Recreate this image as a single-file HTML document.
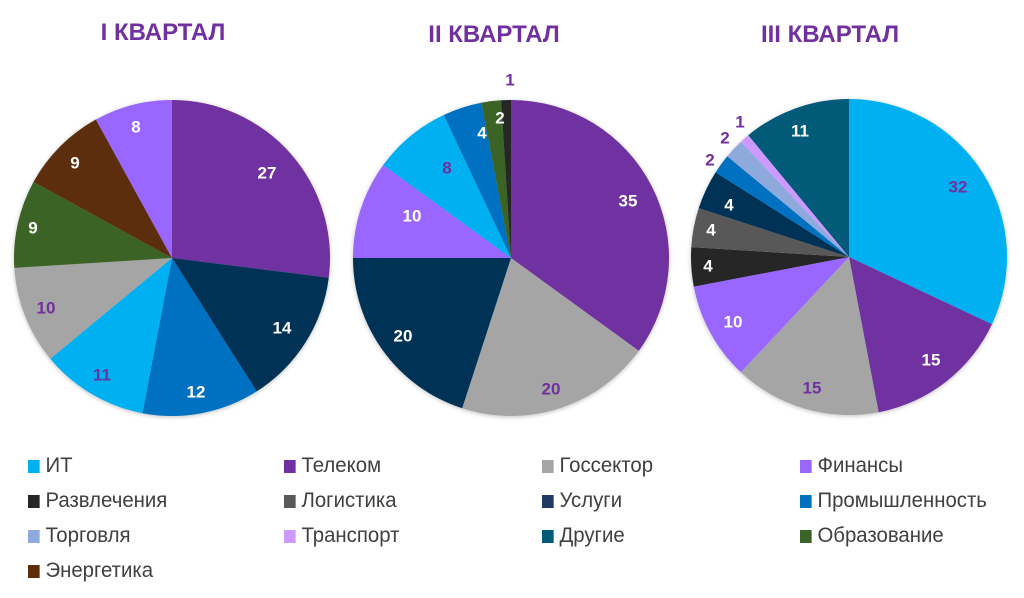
<!DOCTYPE html>
<html><head><meta charset="utf-8"><style>
body{margin:0;background:#fff;width:1024px;height:598px;overflow:hidden;font-family:"Liberation Sans",sans-serif}
.t{font-family:"Liberation Sans",sans-serif;font-weight:bold;font-size:24px;fill:#7030A0}
.l{font-weight:bold;font-size:17px;text-anchor:middle;dominant-baseline:central}
.w{fill:#fff}.p{fill:#7030A0}
.lg{position:absolute;font-size:21px;color:#404040;transform:scaleX(0.97);transform-origin:left}
.lg i{display:inline-block;width:12px;height:13px;margin-right:6px;vertical-align:-1px}
</style></head><body>
<svg width="1024" height="598" style="position:absolute;left:0;top:0">
<defs><filter id="s" x="-10%" y="-10%" width="120%" height="120%"><feDropShadow dx="0" dy="1" stdDeviation="2" flood-opacity="0.25"/></filter></defs>
<text class="t" x="163" y="40" text-anchor="middle">I КВАРТАЛ</text>
<text class="t" x="494" y="42" text-anchor="middle">II КВАРТАЛ</text>
<text class="t" x="830" y="42" text-anchor="middle">III КВАРТАЛ</text>
<g id="p1" filter="url(#s)"></g><g id="p2" filter="url(#s)"></g><g id="p3" filter="url(#s)"></g>
<g class="l">
<text class="w" x="267" y="173">27</text><text class="w" x="282" y="328">14</text><text class="w" x="196" y="392">12</text>
<text class="p" x="102" y="375">11</text><text class="p" x="46" y="308">10</text><text class="w" x="33" y="228">9</text>
<text class="w" x="75" y="163">9</text><text class="w" x="136" y="127">8</text>
<text class="w" x="628" y="201">35</text><text class="p" x="551" y="389">20</text><text class="w" x="403" y="336">20</text>
<text class="w" x="412" y="216">10</text><text class="p" x="447" y="168">8</text><text class="w" x="482" y="133">4</text>
<text class="w" x="500" y="118">2</text><text class="p" x="510" y="80">1</text>
<text class="p" x="958" y="187">32</text><text class="w" x="931" y="360">15</text><text class="p" x="812" y="388">15</text>
<text class="w" x="733" y="322">10</text><text class="w" x="708" y="266">4</text><text class="w" x="711" y="230">4</text>
<text class="w" x="729" y="205">4</text><text class="p" x="710" y="160">2</text><text class="p" x="725" y="138">2</text>
<text class="p" x="740" y="122">1</text><text class="w" x="800" y="131">11</text>
</g>
</svg>
<div class="lg" style="left:28px;top:454px"><i style="background:#00B0F0"></i>ИТ</div>
<div class="lg" style="left:284px;top:454px"><i style="background:#7030A0"></i>Телеком</div>
<div class="lg" style="left:542px;top:454px"><i style="background:#A5A5A5"></i>Госсектор</div>
<div class="lg" style="left:800px;top:454px"><i style="background:#9966FF"></i>Финансы</div>
<div class="lg" style="left:28px;top:489px"><i style="background:#262626"></i>Развлечения</div>
<div class="lg" style="left:284px;top:489px"><i style="background:#595959"></i>Логистика</div>
<div class="lg" style="left:542px;top:489px"><i style="background:#1F3864"></i>Услуги</div>
<div class="lg" style="left:800px;top:489px"><i style="background:#0070C0"></i>Промышленность</div>
<div class="lg" style="left:28px;top:524px"><i style="background:#8EA9DB"></i>Торговля</div>
<div class="lg" style="left:284px;top:524px"><i style="background:#CC99FF"></i>Транспорт</div>
<div class="lg" style="left:542px;top:524px"><i style="background:#005A78"></i>Другие</div>
<div class="lg" style="left:800px;top:524px"><i style="background:#3B6428"></i>Образование</div>
<div class="lg" style="left:28px;top:559px"><i style="background:#5C2E0A"></i>Энергетика</div>
<script>
function pie(id,cx,cy,r,d){var g=document.getElementById(id),a=0,s='';
d.forEach(function(x){var v=x[0],c=x[1],a2=a+v/100*2*Math.PI;
var x1=cx+r*Math.sin(a),y1=cy-r*Math.cos(a),x2=cx+r*Math.sin(a2),y2=cy-r*Math.cos(a2);
s+='<path fill="'+c+'" d="M'+cx+' '+cy+'L'+x1+' '+y1+'A'+r+' '+r+' 0 '+(v>50?1:0)+' 1 '+x2+' '+y2+'Z"/>';a=a2;});
g.innerHTML=s;}
var NAV='#003057';
pie('p1',172,258,158,[[27,'#7030A0'],[14,NAV],[12,'#0070C0'],[11,'#00B0F0'],[10,'#A5A5A5'],[9,'#3B6428'],[9,'#5C2E0A'],[8,'#9966FF']]);
pie('p2',511,258,158,[[35,'#7030A0'],[20,'#A5A5A5'],[20,NAV],[10,'#9966FF'],[8,'#00B0F0'],[4,'#0070C0'],[2,'#3B6428'],[1,'#262626']]);
pie('p3',849,257,158,[[32,'#00B0F0'],[15,'#7030A0'],[15,'#A5A5A5'],[10,'#9966FF'],[4,'#262626'],[4,'#595959'],[4,NAV],[2,'#0070C0'],[2,'#8EA9DB'],[1,'#CC99FF'],[11,'#005A78']]);
</script>
</body></html>
